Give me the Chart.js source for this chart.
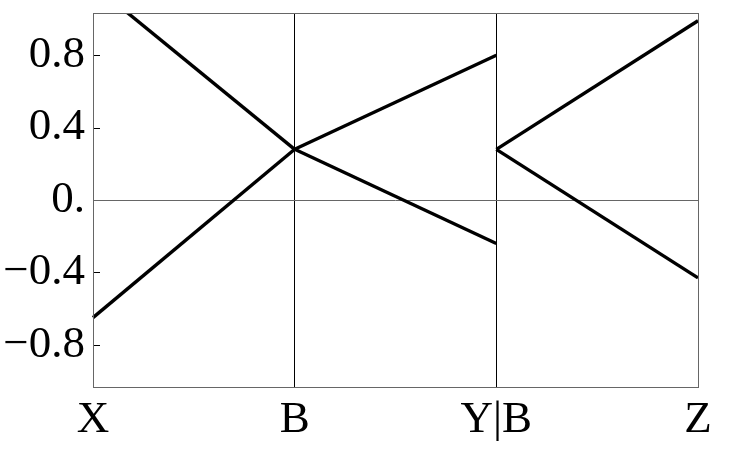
<!DOCTYPE html>
<html>
<head>
<meta charset="utf-8">
<script src="https://cdn.jsdelivr.net/npm/chart.js@4/dist/chart.umd.min.js"></script>
<style>
  html, body { margin: 0; padding: 0; background: #fff; }
  canvas { display: block; }
</style>
</head>
<body>
<canvas id="chart" width="736" height="462"></canvas>
<script>
// path points along the x axis
const categories = ['X', 'B', 'Y|B', 'Z'];

// y axis ticks
const yTicks = [0.8, 0.4, 0, -0.4, -0.8];
const yTickLabels = ['0.8', '0.4', '0.', '\u22120.4', '\u22120.8'];

// bands, one array per piece (null = not drawn there)
const leg1Upper = [1.19, 0.28, null, null];
const leg1Lower = [-0.65, 0.28, null, null];
const leg2Upper = [null, 0.28, 0.80, null];
const leg2Lower = [null, 0.28, -0.24, null];
const leg3Upper = [null, null, 0.28, 0.99];
const leg3Lower = [null, null, 0.28, -0.43];

const fontFamily = '"Liberation Serif", serif';

function band(data) {
    return {
        data: data,
        borderColor: '#000',
        borderWidth: 3.4,
        pointRadius: 0,
        fill: false,
        tension: 0,
        spanGaps: false
    };
}

// frame and small inward tick marks
const framePlugin = {
    id: 'frame',
    afterDraw(chart) {
        let ctx = chart.ctx;
        let a = chart.chartArea;
        let y = chart.scales.y;
        let x = chart.scales.x;
        ctx.save();
        ctx.strokeStyle = '#000';
        ctx.lineWidth = 1;
        yTicks.forEach(v => {
            if (v === 0) return;
            let py = Math.round(y.getPixelForValue(v)) + 0.5;
            ctx.beginPath();
            ctx.moveTo(a.left, py);
            ctx.lineTo(a.left + 7, py);
            ctx.stroke();
        });
        [0, categories.length - 1].forEach(i => {
            let px = Math.round(x.getPixelForValue(i)) + 0.5;
            ctx.beginPath();
            ctx.moveTo(px, a.bottom);
            ctx.lineTo(px, a.bottom - 7);
            ctx.stroke();
        });
        ctx.strokeStyle = '#666';
        ctx.strokeRect(Math.round(a.left) + 0.5, Math.round(a.top) + 0.5,
            Math.round(a.right - a.left), Math.round(a.bottom - a.top));
        ctx.restore();
    }
};

function drawChart() {
    new Chart(document.getElementById('chart').getContext('2d'), {
        type: 'line',
        data: {
            labels: categories,
            datasets: [leg1Upper, leg1Lower, leg2Upper, leg2Lower, leg3Upper, leg3Lower].map(band)
        },
        options: {
            responsive: false,
            animation: false,
            layout: { padding: { left: 0, top: 13, right: 38, bottom: 0 } },
            plugins: {
                legend: { display: false },
                tooltip: { enabled: false }
            },
            scales: {
                x: {
                    type: 'category',
                    offset: false,
                    border: { display: false },
                    grid: {
                        drawTicks: false,
                        color: ctx => (ctx.index === 1 || ctx.index === 2) ? '#000' : 'rgba(0,0,0,0)',
                        lineWidth: 1
                    },
                    ticks: {
                        color: '#000',
                        padding: 6,
                        maxRotation: 0,
                        autoSkip: false,
                        font: { family: fontFamily, size: 45 }
                    },
                    afterFit(scale) {
                        scale.height = 75;
                        scale.paddingLeft = 0;
                        scale.paddingRight = 0;
                    }
                },
                y: {
                    min: -1.033,
                    max: 1.033,
                    border: { display: false },
                    grid: {
                        drawTicks: false,
                        color: ctx => (ctx.tick && ctx.tick.value === 0) ? '#666' : 'rgba(0,0,0,0)',
                        lineWidth: 1
                    },
                    afterBuildTicks(scale) {
                        scale.ticks = yTicks.map(v => ({ value: v }));
                    },
                    ticks: {
                        color: '#000',
                        padding: 8,
                        font: { family: fontFamily, size: 45 },
                        callback: value => yTickLabels[yTicks.indexOf(value)]
                    },
                    afterFit(scale) {
                        scale.width = 93;
                        scale.paddingTop = 0;
                        scale.paddingBottom = 0;
                    }
                }
            }
        },
        plugins: [framePlugin]
    });
}

if (document.fonts && document.fonts.load) {
    document.fonts.load('45px "Liberation Serif"').then(drawChart, drawChart);
} else {
    drawChart();
}
</script>
</body>
</html>
